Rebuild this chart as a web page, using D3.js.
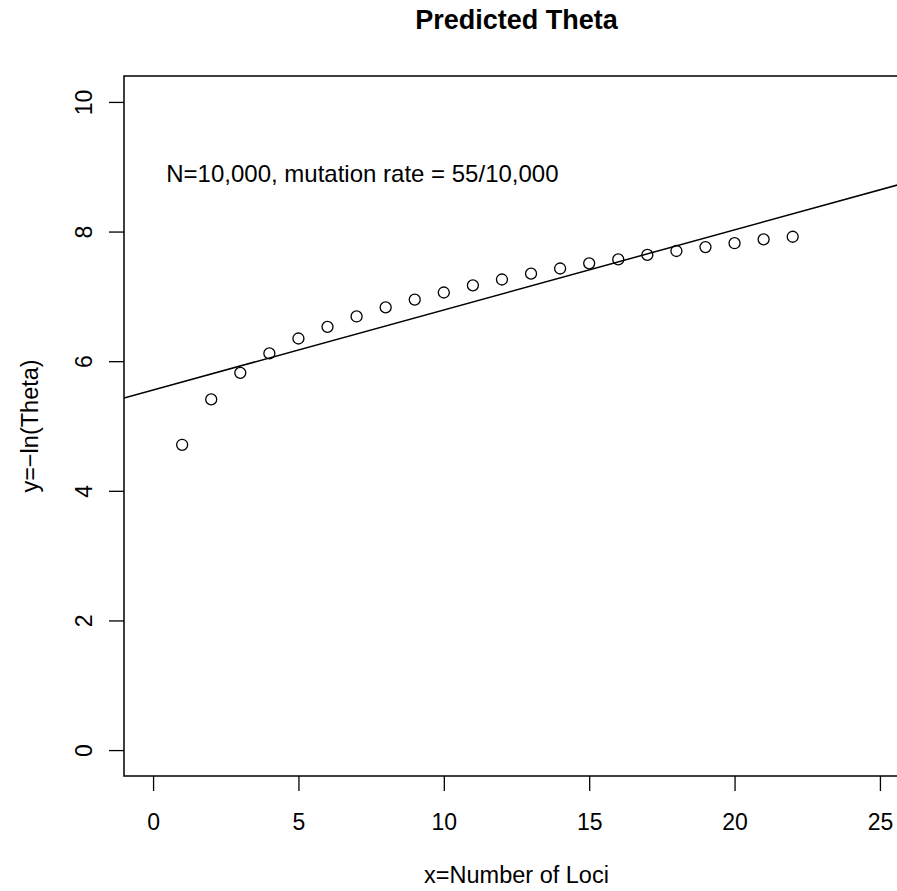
<!DOCTYPE html>
<html>
<head>
<meta charset="utf-8">
<script src="https://cdn.jsdelivr.net/npm/d3@7"></script>
<style>
  body { margin: 0; background: #fff; }
  svg { display: block; font-family: "Liberation Sans", Arial, Helvetica, sans-serif; }
</style>
</head>
<body>
<script>
// data
const loci = [1, 2, 3, 4, 5, 6, 7, 8, 9, 10, 11, 12, 13, 14, 15, 16, 17, 18, 19, 20, 21, 22];
const negLnTheta = [4.71, 5.41, 5.82, 6.12, 6.35, 6.53, 6.69, 6.83, 6.95, 7.06, 7.17,
  7.26, 7.35, 7.43, 7.51, 7.57, 7.64, 7.70, 7.76, 7.82, 7.88, 7.92];
const xTicks = [0, 5, 10, 15, 20, 25];
const yTicks = [0, 2, 4, 6, 8, 10];
const note = { x: 7.2, y: 8.9, text: 'N=10,000, mutation rate = 55/10,000' };

const W = 897;
const H = 891;
// plot box (right side runs off the page, as in the original)
const box = { left: 124, top: 76, right: 909, bottom: 776 };

const x = d3.scaleLinear().domain([-1, 26]).range([box.left, box.right]);
const y = d3.scaleLinear().domain([-0.4, 10.4]).range([box.bottom, box.top]);

const svg = d3.select('body').append('svg')
  .attr('width', W)
  .attr('height', H);

svg.append('defs').append('clipPath')
  .attr('id', 'plotclip')
  .append('rect')
  .attr('x', box.left)
  .attr('y', box.top)
  .attr('width', box.right - box.left)
  .attr('height', box.bottom - box.top);

// least squares fit, like abline(lm(y ~ x))
const mx = d3.mean(loci);
const my = d3.mean(negLnTheta);
const sxy = d3.sum(loci, (d, i) => (d - mx) * (negLnTheta[i] - my));
const sxx = d3.sum(loci, d => (d - mx) * (d - mx));
const slope = sxy / sxx;
const icept = my - slope * mx;

svg.append('line')
  .attr('clip-path', 'url(#plotclip)')
  .attr('x1', x(-1))
  .attr('y1', y(icept + slope * -1))
  .attr('x2', x(26))
  .attr('y2', y(icept + slope * 26))
  .attr('stroke', '#000')
  .attr('stroke-width', 1.5);

// points
svg.append('g')
  .selectAll('circle')
  .data(loci)
  .join('circle')
  .attr('cx', d => x(d))
  .attr('cy', (d, i) => y(negLnTheta[i]))
  .attr('r', 5.5)
  .attr('fill', 'none')
  .attr('stroke', '#000')
  .attr('stroke-width', 1.3);

// box
svg.append('rect')
  .attr('x', box.left)
  .attr('y', box.top)
  .attr('width', box.right - box.left)
  .attr('height', box.bottom - box.top)
  .attr('fill', 'none')
  .attr('stroke', '#000')
  .attr('stroke-width', 1.5);

// x axis
const xAxis = svg.append('g')
  .attr('transform', `translate(0,${box.bottom})`)
  .call(d3.axisBottom(x).tickValues(xTicks).tickSize(15).tickPadding(23).tickSizeOuter(0));
xAxis.select('.domain').remove();
xAxis.selectAll('line').attr('stroke-width', 1.3);
xAxis.selectAll('text').attr('font-size', 23).attr('font-family', null).attr('fill', '#000');

// y axis, labels turned like R's las=0
const yAxis = svg.append('g')
  .attr('transform', `translate(${box.left},0)`)
  .call(d3.axisLeft(y).tickValues(yTicks).tickSize(15).tickSizeOuter(0));
yAxis.select('.domain').remove();
yAxis.selectAll('line').attr('stroke-width', 1.3);
yAxis.selectAll('text')
  .attr('font-size', 23)
  .attr('font-family', null)
  .attr('fill', '#000')
  .attr('x', null)
  .attr('dy', null)
  .attr('text-anchor', 'middle')
  .attr('transform', 'translate(-32,0) rotate(-90)');

// note inside the plot
svg.append('text')
  .attr('x', x(note.x))
  .attr('y', y(note.y))
  .attr('dy', '0.36em')
  .attr('text-anchor', 'middle')
  .attr('font-size', 24)
  .text(note.text);

// title and axis labels
svg.append('text')
  .attr('x', (box.left + box.right) / 2)
  .attr('y', 29)
  .attr('text-anchor', 'middle')
  .attr('font-size', 27)
  .attr('font-weight', 'bold')
  .text('Predicted Theta');

svg.append('text')
  .attr('x', (box.left + box.right) / 2)
  .attr('y', 883)
  .attr('text-anchor', 'middle')
  .attr('font-size', 23.5)
  .text('x=Number of Loci');

svg.append('text')
  .attr('transform', `translate(38,${(box.top + box.bottom) / 2}) rotate(-90)`)
  .attr('text-anchor', 'middle')
  .attr('font-size', 23.5)
  .text('y=−ln(Theta)');
</script>
</body>
</html>
